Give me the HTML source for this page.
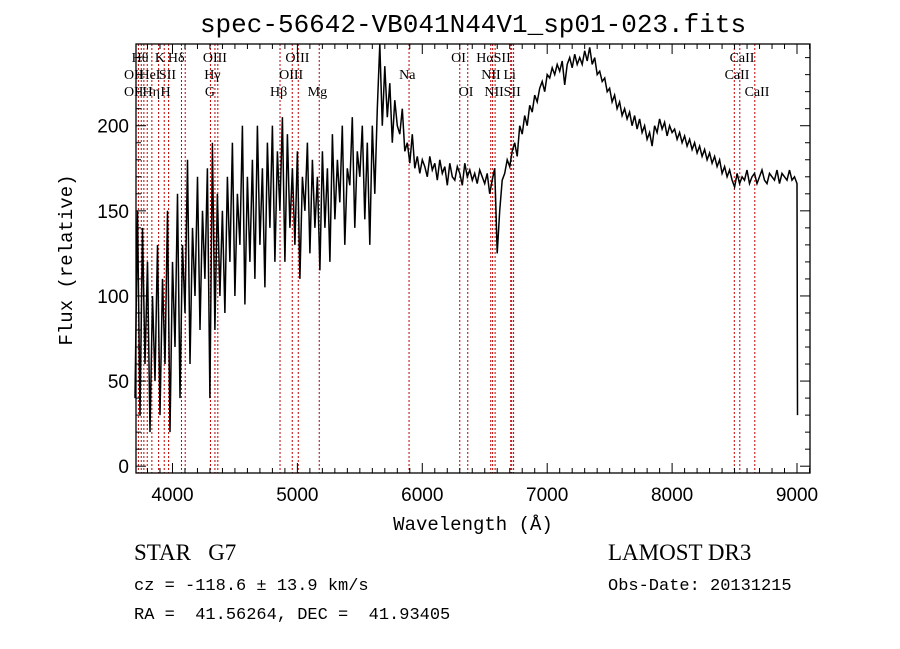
<!DOCTYPE html>
<html><head><meta charset="utf-8"><style>
body{margin:0;background:#fff}
svg{display:block}
text{fill:#000}
</style></head><body>
<svg id="chart" width="900" height="649" xmlns="http://www.w3.org/2000/svg">
<rect width="900" height="649" fill="#fff"/>
<text x="473" y="32" text-anchor="middle" font-family="Liberation Mono, monospace" font-size="26">spec-56642-VB041N44V1_sp01-023.fits</text>
<g id="lines"></g>
<g id="labels"></g>
<path id="spec" fill="none" stroke="#000" stroke-width="1.5"/>
<rect x="136" y="44" width="674" height="429" fill="none" stroke="#000" stroke-width="1.3"/>
<g id="ticks" stroke="#000" stroke-width="1"></g>
<g id="ticklabels" font-family="Liberation Sans, sans-serif" font-size="19"></g>
<text x="473" y="530" text-anchor="middle" font-family="Liberation Mono, monospace" font-size="19">Wavelength (Å)</text>
<text transform="translate(72,260) rotate(-90)" text-anchor="middle" font-family="Liberation Mono, monospace" font-size="19">Flux (relative)</text>
<text x="134" y="560" font-family="Liberation Serif, serif" font-size="23" xml:space="preserve">STAR   G7</text>
<text x="608" y="560" font-family="Liberation Serif, serif" font-size="23">LAMOST DR3</text>
<text x="134" y="590" font-family="Liberation Mono, monospace" font-size="17">cz = -118.6 ± 13.9 km/s</text>
<text x="608" y="590" font-family="Liberation Mono, monospace" font-size="17">Obs-Date: 20131215</text>
<text x="134" y="619" font-family="Liberation Mono, monospace" font-size="17" xml:space="preserve">RA =  41.56264, DEC =  41.93405</text>
</svg>
<script>
const blueStart = 3700, blueStep = 20;
const blueFlux = [40,150,30,140,60,120,20,100,50,130,
30,110,60,150,20,120,70,160,40,130,
90,180,60,140,100,170,80,150,110,175,
40,190,80,160,100,150,90,170,120,190,
100,160,130,200,95,170,120,180,110,200,
130,175,105,190,140,200,120,185,150,205,
120,195,140,175,130,185,110,170,150,190,
125,180,140,170,115,185,140,175,120,195,
145,180,155,200,130,175,165,205,140,185,
170,200,145,190,130,200,160,210];
const redStart = 5660, redStep = 20;
const redFlux = [248,200,235,205,225,190,215,200,195,210,
185,190,178,195,175,182,172,180,176,170,
182,174,178,168,180,172,176,165,178,170,
168,176,172,165,178,170,174,168,172,166,
174,170,166,172,160,168,175,125,150,168,
172,180,176,185,190,182,200,195,206,200,
212,208,218,214,222,226,220,230,228,234,
230,236,232,238,224,236,240,234,242,236,
240,236,244,238,246,236,240,230,232,226,
228,220,222,214,218,210,214,206,210,204,
208,200,206,198,204,196,200,192,196,188,
200,196,204,198,202,194,200,196,198,192,
196,190,194,188,192,186,190,184,188,182,
186,180,184,178,182,176,180,172,176,170,
174,168,164,172,166,170,168,174,166,170,
172,166,170,174,168,166,172,170,168,174,
166,172,170,168,174,168,170,166,30];
const lineWaves = [3727,3750,3771,3798,3835,3889,3934,3969,4072,4102,4304,4340,4363,4861,4959,5007,5175,5894,6300,6364,6548,6563,6583,6708,6716,6731,8498,8542,8662];
const labelText = ["Hθ","K","Hδ","OIII","OIII","OI","HαSII","CaII","OII","HeI","SII","Hγ","OIII","Na","NII","Li","CaII","OII","Hη","H","G","Hβ","Mg","OI","NII","SII","CaII"];
const labelWave = [3740,3900,4030,4340,5000,6290,6570,8560,3690,3820,3960,4320,4950,5880,6550,6700,8520,3690,3830,3945,4300,4850,5160,6350,6575,6720,8680];
const labelRow = [0,0,0,0,0,0,0,0,1,1,1,1,1,1,1,1,1,2,2,2,2,2,2,2,2,2,2];
const xTicks = [4000,5000,6000,7000,8000,9000];
const yTicks = [0,50,100,150,200];

const X0=136,X1=810,W0=3708,W1=9104,Y0=473,Y1=44,F0=-4,F1=248;
const sx = w => X0+(w-W0)*(X1-X0)/(W1-W0);
const sy = f => Y0-(f-F0)*(Y0-Y1)/(F1-F0);
const NS="http://www.w3.org/2000/svg";
function mk(tag,attrs,parent){const e=document.createElementNS(NS,tag);for(const k in attrs)e.setAttribute(k,attrs[k]);parent.appendChild(e);return e;}

const pts=[];
blueFlux.forEach((f,i)=>pts.push([sx(blueStart+i*blueStep),sy(f)]));
redFlux.forEach((f,i)=>pts.push([sx(Math.min(redStart+i*redStep,9004)),sy(f)]));
document.getElementById('spec').setAttribute('d','M'+pts.map(p=>p[0].toFixed(1)+','+p[1].toFixed(1)).join('L'));

const lg=document.getElementById('lines');
lineWaves.forEach(w=>{
  const l=mk('line',{x1:sx(w),x2:sx(w),y1:Y1,y2:Y0,stroke:'#c00000','stroke-width':1,'stroke-dasharray':'2,2'},lg);
  
  
});
const lb=document.getElementById('labels');
labelText.forEach((t,i)=>{
  const e=mk('text',{x:sx(labelWave[i]),y:62+labelRow[i]*17,'text-anchor':'middle','font-family':'Liberation Serif, serif','font-size':14},lb);
  e.textContent=t;
  
  
});
const tg=document.getElementById('ticks'),tl=document.getElementById('ticklabels');
for(let w=3800;w<=9100;w+=100){
  const maj=w%1000===0,len=maj?10:5,x=sx(w);
  mk('line',{x1:x,x2:x,y1:Y0,y2:Y0-len},tg);
  mk('line',{x1:x,x2:x,y1:Y1,y2:Y1+len},tg);
}
xTicks.forEach(w=>{
  const e=mk('text',{x:sx(w),y:Y0+28,'text-anchor':'middle'},tl);
  e.textContent=w;
  
  
});
for(let f=0;f<=240;f+=10){
  const maj=f%50===0,len=maj?10:5,y=sy(f);
  mk('line',{x1:X0,x2:X0+len,y1:y,y2:y},tg);
  mk('line',{x1:X1,x2:X1-len,y1:y,y2:y},tg);
}
yTicks.forEach(f=>{
  const e=mk('text',{x:X0-7,y:sy(f)+7,'text-anchor':'end'},tl);
  e.textContent=f;
  
  
});
</script>
</body></html>
